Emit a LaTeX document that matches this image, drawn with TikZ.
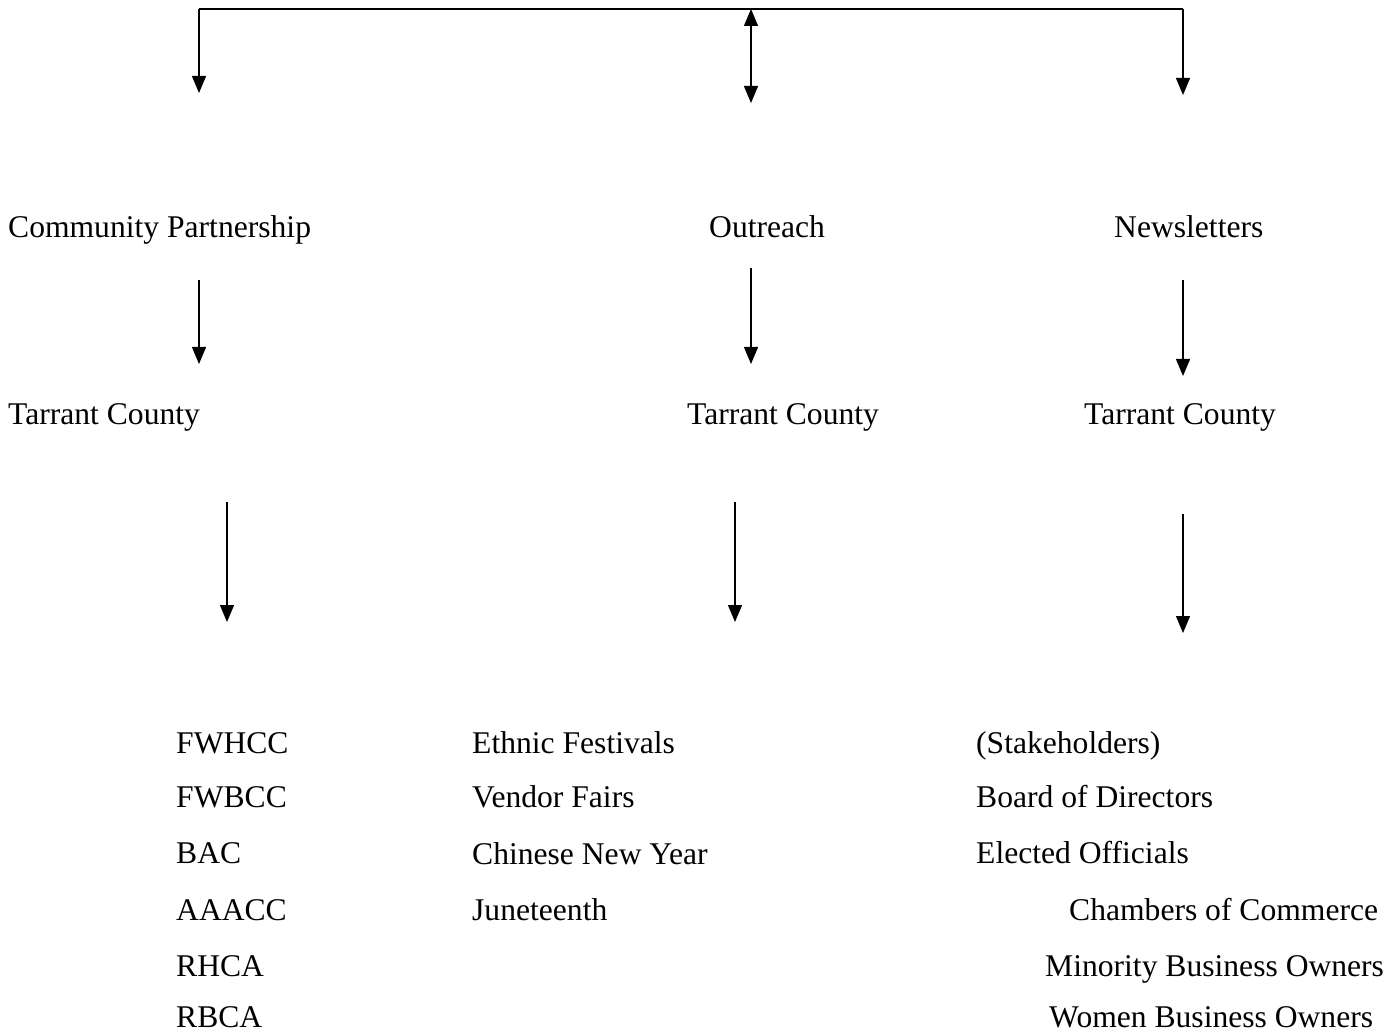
\documentclass[tikz,border=0pt]{standalone}
\usepackage{fontspec}
\setmainfont{Liberation Serif}
\usetikzlibrary{arrows.meta}
\begin{document}
\begin{tikzpicture}[x=1pt,y=-1pt,
  lbl/.style={anchor=base west,inner sep=0pt,font=\fontsize{31.6}{31.6}\selectfont},
  arr/.style={-{Triangle[width=14pt,length=17pt]},line width=1.3pt},
  darr/.style={{Triangle[width=14pt,length=17pt]}-{Triangle[width=14pt,length=17pt]},line width=1.3pt}]
\useasboundingbox (0,0) rectangle (1398,1032);
% top bracket
\coordinate (tl) at (199,9);
\coordinate (tm) at (751,9);
\coordinate (tr) at (1183,9);
\coordinate (al) at (199,93);
\coordinate (am) at (751,103);
\coordinate (ar) at (1183,95);
\draw[line width=1.3pt] (tl) -- (tr);
\draw[arr] (tl) -- (al);
\draw[darr] (tm) -- (am);
\draw[arr] (tr) -- (ar);
% level 1
\node[lbl] (cp) at (8,238) {Community Partnership};
\node[lbl] (out) at (709,238) {Outreach};
\node[lbl] (nl) at (1114,238) {Newsletters};
% arrows level 1 -> 2
\coordinate (a1s) at (199,280); \coordinate (a1e) at (199,364);
\coordinate (a2s) at (751,268); \coordinate (a2e) at (751,364);
\coordinate (a3s) at (1183,280); \coordinate (a3e) at (1183,376);
\draw[arr] (a1s) -- (a1e);
\draw[arr] (a2s) -- (a2e);
\draw[arr] (a3s) -- (a3e);
% level 2
\node[lbl] (tc1) at (8,424) {Tarrant County};
\node[lbl] (tc2) at (687,424) {Tarrant County};
\node[lbl] (tc3) at (1084,424) {Tarrant County};
% arrows level 2 -> 3
\coordinate (b1s) at (227,502); \coordinate (b1e) at (227,622);
\coordinate (b2s) at (735,502); \coordinate (b2e) at (735,622);
\coordinate (b3s) at (1183,514); \coordinate (b3e) at (1183,633);
\draw[arr] (b1s) -- (b1e);
\draw[arr] (b2s) -- (b2e);
\draw[arr] (b3s) -- (b3e);
% column 1
\node[lbl] (c11) at (176,753) {FWHCC};
\node[lbl] (c12) at (176,807) {FWBCC};
\node[lbl] (c13) at (176,863) {BAC};
\node[lbl] (c14) at (176,920) {AAACC};
\node[lbl] (c15) at (176,976) {RHCA};
\node[lbl] (c16) at (176,1027) {RBCA};
% column 2
\node[lbl] (c21) at (472,753) {Ethnic Festivals};
\node[lbl] (c22) at (472,807) {Vendor Fairs};
\node[lbl] (c23) at (472,864) {Chinese New Year};
\node[lbl] (c24) at (472,920) {Juneteenth};
% column 3
\node[lbl] (c31) at (976,753) {(Stakeholders)};
\node[lbl] (c32) at (976,807) {Board of Directors};
\node[lbl] (c33) at (976,863) {Elected Officials};
\node[lbl] (c34) at (1069,920) {Chambers of Commerce};
\node[lbl] (c35) at (1045,976) {Minority Business Owners};
\node[lbl] (c36) at (1049,1027) {Women Business Owners};
\end{tikzpicture}
\end{document}
